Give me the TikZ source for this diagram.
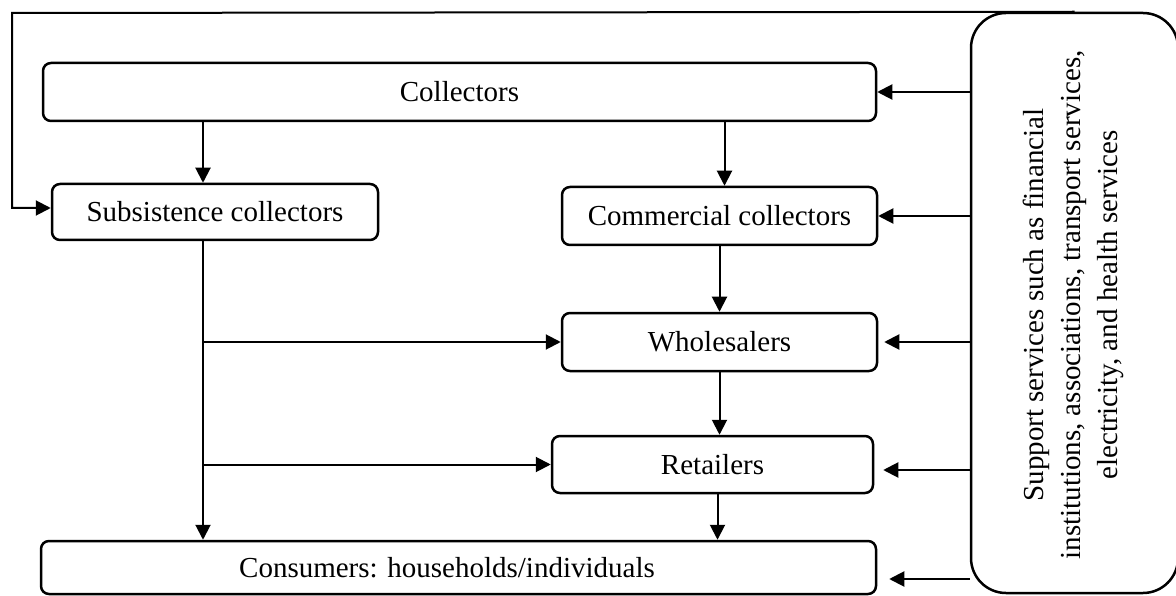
\documentclass[tikz,border=0pt]{standalone}
\usepackage{fontspec}
\setmainfont{Liberation Serif}
\usetikzlibrary{arrows.meta}
\begin{document}
\begin{tikzpicture}[x=1pt,y=-1pt,
  box/.style={draw, line width=2.5pt, rounded corners=8pt, inner sep=0pt, font=\fontsize{29}{37}\selectfont},
  arr/.style={line width=2pt, -{Triangle[length=15pt,width=15pt]}},
  ln/.style={line width=2pt}]
\useasboundingbox (0,0) rectangle (1176,596);
\node[box, minimum width=833pt, minimum height=58pt] (coll) at (459.5,92) {Collectors};
\node[box, minimum width=326pt, minimum height=56pt] (subs) at (215,212) {Subsistence collectors};
\node[box, minimum width=315pt, minimum height=58pt] (comm) at (719.5,216) {Commercial collectors};
\node[box, minimum width=315pt, minimum height=58pt] (whole) at (719.5,342) {Wholesalers};
\node[box, minimum width=321pt, minimum height=57pt] (ret) at (712.5,464.5) {Retailers};
\node[box, minimum width=835pt, minimum height=53pt] (cons) at (458.5,567.5) {Consumers: households/individuals\hspace*{23pt}};
\node[draw, line width=2.5pt, rounded corners=35pt, minimum width=207pt, minimum height=580pt, inner sep=0pt] (sup) at (1074.5,303) {};
\node[rotate=90, align=center, font=\fontsize{29}{37}\selectfont] (suptext) at (1073,305) {Support services such as financial\\institutions, associations, transport services,\\electricity, and health services};
\coordinate (tl) at (12,13);
\coordinate (v) at (203,0);
% feedback loop
\draw[arr] (sup.north) -- (tl) |- ([yshift=4pt]subs.west);
% collectors split
\draw[arr] (coll.south -| v) -- (subs.north -| v);
\draw[arr] ([xshift=5pt]comm.north |- coll.south) -- ([xshift=5pt]comm.north);
\draw[arr] (comm.south) -- (whole.north);
\draw[arr] (whole.south) -- (whole.south |- ret.north);
\draw[arr] ([xshift=5pt]ret.south) -- ([xshift=5pt]ret.south |- cons.north);
% subsistence path
\draw[arr] (subs.south -| v) -- (cons.north -| v);
\draw[arr] (whole.west -| v) -- (whole.west);
\draw[arr] (ret.west -| v) -- (ret.west);
% support arrows
\draw[arr] (sup.west |- coll.east) -- (coll.east);
\draw[arr] (sup.west |- comm.east) -- (comm.east);
\draw[arr, shorten >=6pt] (sup.west |- whole.east) -- (whole.east);
\draw[arr, shorten >=9pt] ([yshift=-5.5pt]sup.west |- ret.east) -- ([yshift=-5.5pt]ret.east);
\draw[arr, shorten >=12pt] ([yshift=-11.5pt]sup.west |- cons.east) -- ([yshift=-11.5pt]cons.east);
\end{tikzpicture}
\end{document}
